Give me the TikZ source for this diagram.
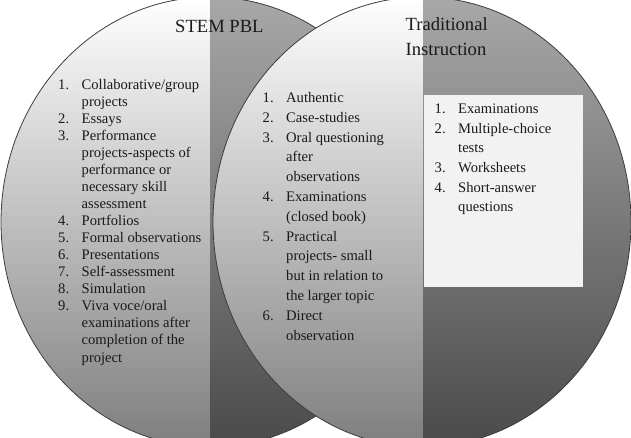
\documentclass[tikz,border=0pt]{standalone}
\usepackage{fontspec}
\setmainfont{Liberation Serif}
\usepackage{tikz}

\definecolor{ringline}{HTML}{3C3C3C}
\definecolor{lighttop}{HTML}{FFFFFF}
\definecolor{lightbot}{HTML}{7E7E7E}
\definecolor{darktop}{HTML}{A8A8A8}
\definecolor{darkbot}{HTML}{4A4A4A}
\definecolor{panelfill}{HTML}{F2F2F2}
\definecolor{ink}{HTML}{1A1A1A}

\newcommand{\itm}[2]{\makebox[23.5pt][l]{#1}#2}
\newcommand{\cnt}[1]{\makebox[23.5pt][l]{}#1}

\begin{document}
\begin{tikzpicture}[x=1pt,y=-1pt,
  ring/.style={draw=ringline,line width=0.8pt},
  lighthalf/.style={top color=lighttop,bottom color=lightbot},
  darkhalf/.style={top color=darktop,bottom color=darkbot},
  title/.style={anchor=base west,inner sep=0,align=left,text=ink,font=\fontsize{18.6}{24.3}\selectfont},
  itemlist/.style={anchor=base west,inner sep=0,align=left,text=ink,font=\fontsize{14.6}{#1}\selectfont}
]
\useasboundingbox (0,0) rectangle (631,437);

\begin{scope}
  \clip (210,222) ellipse [x radius=209,y radius=225];
  \shade[lighthalf] (0,-3) rectangle (210,447);
  \shade[darkhalf] (210,-3) rectangle (420,447);
\end{scope}
\draw[ring] (210,222) ellipse [x radius=209,y radius=225];

\begin{scope}
  \clip (422,222) ellipse [x radius=209,y radius=225];
  \shade[lighthalf] (212,-3) rectangle (423,447);
  \shade[darkhalf] (423,-3) rectangle (632,447);
\end{scope}
\draw[ring] (422,222) ellipse [x radius=209,y radius=225];

\fill[panelfill] (424,95) rectangle (583,287);

% anchors sit on the last baseline
\node[title] (stem) at (175,32) {STEM PBL};
\node[title] (trad) at (405.5,55) {Traditional\\Instruction};

\node[itemlist=17.05] (pbl) at (58,362) {
  \itm{1.}{Collaborative/group}\\
  \cnt{projects}\\
  \itm{2.}{Essays}\\
  \itm{3.}{Performance}\\
  \cnt{projects-aspects of}\\
  \cnt{performance or}\\
  \cnt{necessary skill}\\
  \cnt{assessment}\\
  \itm{4.}{Portfolios}\\
  \itm{5.}{Formal observations}\\
  \itm{6.}{Presentations}\\
  \itm{7.}{Self-assessment}\\
  \itm{8.}{Simulation}\\
  \itm{9.}{Viva voce/oral}\\
  \cnt{examinations after}\\
  \cnt{completion of the}\\
  \cnt{project}};

\node[itemlist=19.78] (both) at (262.5,340) {
  \itm{1.}{Authentic}\\
  \itm{2.}{Case-studies}\\
  \itm{3.}{Oral questioning}\\
  \cnt{after}\\
  \cnt{observations}\\
  \itm{4.}{Examinations}\\
  \cnt{(closed book)}\\
  \itm{5.}{Practical}\\
  \cnt{projects- small}\\
  \cnt{but in relation to}\\
  \cnt{the larger topic}\\
  \itm{6.}{Direct}\\
  \cnt{observation}};

\node[itemlist=19.7] (tradlist) at (434.5,211.8) {
  \itm{1.}{Examinations}\\
  \itm{2.}{Multiple-choice}\\
  \cnt{tests}\\
  \itm{3.}{Worksheets}\\
  \itm{4.}{Short-answer}\\
  \cnt{questions}};
\end{tikzpicture}
\end{document}
